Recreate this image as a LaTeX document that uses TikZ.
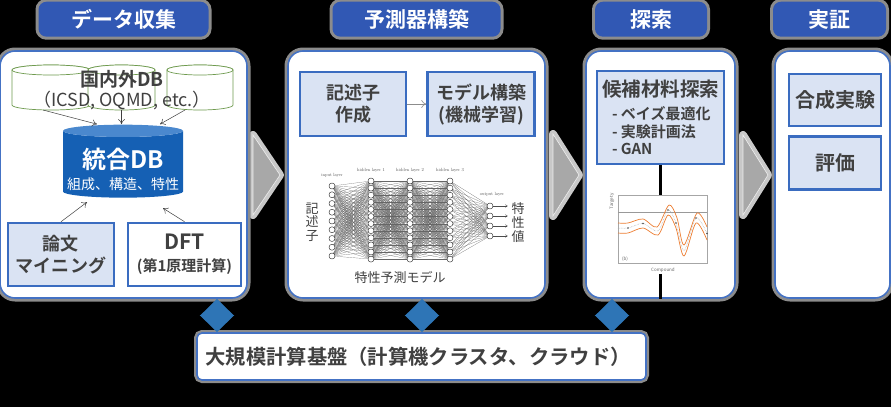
\documentclass[tikz,border=0pt]{standalone}
\usepackage{fontspec}
\setmainfont{Noto Sans CJK JP}[BoldFont={Noto Sans CJK JP Bold}]
\newfontfamily\lmfont{lmroman10-regular.otf}
\usetikzlibrary{arrows.meta, positioning, shapes.geometric, calc}
\definecolor{ctab}{HTML}{3158B4}
\definecolor{cpanel}{HTML}{4472C4}
\definecolor{cbox}{HTML}{3A6CC0}
\definecolor{cfill}{HTML}{DAE3F3}
\definecolor{ctext}{HTML}{404040}
\definecolor{chalo}{HTML}{8C8C8C}
\definecolor{cchev}{HTML}{A8A8A8}
\definecolor{cchevhalo}{HTML}{C8C8C8}
\definecolor{cdia}{HTML}{2E75B6}
\definecolor{cdbline}{HTML}{6E9A4E}
\definecolor{cdbbody}{HTML}{1560B4}
\definecolor{cdbtop}{HTML}{4A88CE}
\definecolor{corange}{HTML}{ED7D31}
\tikzset{
  every picture/.style={x=1pt, y=-1pt, line width=1pt},
  tab/.style={fill=ctab, rounded corners=8pt, text=white, font=\fontsize{21}{24}\selectfont\bfseries, minimum width=#1, minimum height=35pt, inner sep=0pt, preaction={draw=chalo, line width=6pt}},
  panel/.style={draw=cpanel, fill=white, line width=1.6pt, rounded corners=15pt, minimum width=#1, minimum height=247pt, inner sep=0pt, preaction={draw=chalo, line width=7pt}},
  box/.style={draw=cbox, fill=#1, line width=2.6pt, align=center, text=ctext, inner sep=2pt, font=\fontsize{18}{22}\selectfont\bfseries},
  box/.default=cfill,
  dbdrum/.style={draw=cdbline, fill=white, line width=0.7pt},
  thinarrow/.style={-{To[length=5pt,width=7pt]}, draw=ctext, line width=0.5pt},
  garrow/.style={-{To[length=5pt,width=8pt]}, draw=black!45, line width=0.6pt},
  chev/.style={fill=cchev, draw=white!80!cchev, line width=0.6pt, preaction={draw=cchevhalo, line width=8pt, line join=round}},
  bar/.style={draw=cpanel, fill=white, line width=1.6pt, rounded corners=5pt, minimum width=449pt, minimum height=47pt, text width=432pt, align=left, text=ctext, font=\fontsize{20.3}{22}\selectfont\bfseries, preaction={draw=chalo, line width=6pt}},
  link/.style={{Triangle[width=34pt,length=17pt]}-{Triangle[width=34pt,length=17pt]}, draw=cdia, line width=0.8pt},
  neuron/.style={circle, draw=black!80, fill=white, line width=0.45pt, minimum size=6pt, inner sep=0pt},
  nnedge/.style={draw=black!60, line width=0.18pt},
  nnarrow/.style={-{To[length=2.5pt,width=3pt]}, draw=black!70, line width=0.4pt},
  nnlabel/.style={font=\lmfont\fontsize{4.5}{5}\selectfont, text=black!70},
  chartlabel/.style={font=\fontsize{4.5}{5}\selectfont, text=black!60, inner sep=1pt},
}

\begin{document}
\begin{tikzpicture}
  \useasboundingbox (0,0) rectangle (891,407);
  \fill[black] (0,0) rectangle (891,407);
  % arrows between the stages
  \fill[chev] (253,135) -- (280,175) -- (253,215) -- cycle;
  \fill[chev] (553,134) -- (579,175) -- (553,216) -- cycle;
  \fill[chev] (743,135) -- (768,175) -- (743,215) -- cycle;
  % stages
  \node[panel=247] (panelA) at (123.5,174.5) {};
  \node[panel=257] (panelB) at (416.5,174.5) {};
  \node[panel=149] (panelC) at (660.5,174.5) {};
  \node[panel=115] (panelD) at (832.5,174.5) {};
  \node[tab=170, above=13pt of panelA] (tabA) {データ収集};
  \node[tab=168, above=13pt of panelB] (tabB) {予測器構築};
  \node[tab=112, above=13pt of panelC, xshift=-9.5pt] (tabC) {探索};
  \node[tab=113, above=13pt of panelD, xshift=-3pt] (tabD) {実証};

  % data collection
  \foreach \n/\cx/\rx in {dbL/51/39, dbR/200/33, dbM/121.5/33.5} {
    \path[dbdrum] (\cx-\rx,70) -- (\cx-\rx,105)
      arc[start angle=180, end angle=0, x radius=\rx, y radius=5]
      -- (\cx+\rx,70) arc[start angle=0, end angle=-180, x radius=\rx, y radius=5] -- cycle;
    \draw[dbdrum] (\cx,70) ellipse[x radius=\rx, y radius=5];
    \coordinate (\n) at (\cx,110);
  }
  \node[text=ctext, align=center, font=\fontsize{18}{20}\selectfont] (dbText) at (122,90)
    {{\fontsize{19}{20}\selectfont\bfseries 国内外DB}\\（ICSD, OQMD, etc.）};
  \node[cylinder, shape border rotate=90, aspect=0.11, cylinder uses custom fill,
        cylinder body fill=cdbbody, cylinder end fill=cdbtop, minimum width=120pt,
        minimum height=73pt, inner sep=0pt, text=white, align=center,
        font=\fontsize{14}{21}\selectfont] (intDB) at (123,164.5)
    {\rule{0pt}{31pt}{\fontsize{24}{21}\selectfont\bfseries 統合DB}\\組成、構造、特性};
  \node[box, minimum width=106pt, minimum height=63pt] (mining) at (61,254.5) {論文\\マイニング};
  \node[box=white, minimum width=113pt, minimum height=63pt] (dft) at (184.5,254.5)
    {{\fontsize{21}{20}\selectfont DFT}\\{\fontsize{15}{20}\selectfont (第1原理計算)}};
  \draw[thinarrow] ([xshift=-8pt]dbL) -- ([xshift=-26pt]intDB.north);
  \draw[thinarrow] (dbM) -- (dbM |- intDB.north);
  \draw[thinarrow] ([xshift=-15pt]dbR) -- ([xshift=37pt]intDB.north);
  \draw[thinarrow] (mining.north) -- ([xshift=-36pt,yshift=-4pt]intDB.south);
  \draw[thinarrow] (dft.north) -- ([xshift=40pt,yshift=-10pt]intDB.south);

  % predictor
  \node[box, minimum width=106pt, minimum height=64pt] (descr) at (353,104) {記述子\\作成};
  \node[box, minimum width=107pt, minimum height=64pt, right=19pt of descr] (model) {モデル構築\\(機械学習)};
  \draw[garrow] (descr) -- (model);
  \foreach \k in {1,...,9} \coordinate (in\k) at (332,{186+8.75*(\k-1)});
  \foreach \l/\x in {a/371,b/410,c/450}
    \foreach \k in {1,...,12} \coordinate (h\l\k) at (\x,{181+7.1*(\k-1)});
  \foreach \k in {1,...,4} \coordinate (out\k) at (490,{206+10*(\k-1)});
  \begin{scope}[nnedge]
    \foreach \i in {1,...,9} \foreach \j in {1,...,12} \draw (in\i) -- (ha\j);
    \foreach \i in {1,...,12} \foreach \j in {1,...,12} {\draw (ha\i) -- (hb\j); \draw (hb\i) -- (hc\j);}
    \foreach \i in {1,...,12} \foreach \j in {1,...,4} \draw (hc\i) -- (out\j);
  \end{scope}
  \node[text=ctext, align=center, font=\fontsize{13}{13.5}\selectfont] (descrLab) at (312,222) {記\\述\\子};
  \node[text=ctext, align=center, font=\fontsize{13}{14}\selectfont] (prop) at (518,223) {特\\性\\値};
  \foreach \k in {1,...,4} \draw[nnarrow] (out\k) -- (out\k -| prop.west);
  \foreach \k in {1,...,9} \node[neuron] at (in\k) {};
  \foreach \l in {a,b,c} \foreach \k in {1,...,12} \node[neuron] at (h\l\k) {};
  \foreach \k in {1,...,4} \node[neuron] at (out\k) {};
  \node[nnlabel] at (332,175) {input layer};
  \node[nnlabel] at (371,170) {hidden layer 1};
  \node[nnlabel] at (410,170) {hidden layer 2};
  \node[nnlabel] at (450,170) {hidden layer 3};
  \node[nnlabel] at (492,194) {output layer};
  \node[text=ctext, font=\fontsize{13}{15}\selectfont] (nnName) at (400,277) {特性予測モデル};

  % search
  \node[box, align=left, minimum width=127pt, minimum height=93pt, font=\fontsize{15}{17.5}\selectfont\bfseries] (cand) at (660.5,117.5)
    {{\fontsize{19.5}{20}\selectfont 候補材料探索}\\[6pt]
     \hspace*{10pt}- ベイズ最適化\\
     \hspace*{10pt}- 実験計画法\\
     \hspace*{10pt}- GAN};
  \node[draw=black!35, line width=0.4pt, minimum width=89pt, minimum height=68pt, inner sep=0pt] (chart) at (662.5,229) {};
  \draw[black!40, line width=0.4pt] (chart.west |- 0,212) -- (chart.east |- 0,212);
  \draw[corange, line width=0.7pt] plot[smooth] coordinates {(618,223) (628,223) (643,219) (657,227) (669,205) (677,218) (684,245) (697,213) (707,227)};
  \draw[corange, line width=0.7pt] plot[smooth] coordinates {(618,233) (628,233) (643,228) (658,235) (668,215) (676,228) (684,256) (696,223) (707,240)};
  \draw[black!35, line width=0.5pt, densely dotted] plot[smooth] coordinates {(618,228) (628,228) (643,223.5) (658,231) (668,210) (676,223) (684,250.5) (696,218) (707,233.5)};
  \foreach \p in {(628,228),(643,223.5),(668,210),(676,223),(696,218),(707,233.5)}
    \fill[black!70] \p circle (0.9);
  \node[chartlabel, rotate=90] at (612,201) {Target y};
  \node[chartlabel] at (625,259) {(b)};
  \node[chartlabel] (xlab) at (663,270) {Compound};
  \draw[black, line width=3pt] (cand.south) -- (cand.south |- chart.north);
  \draw[black, line width=3pt] (xlab.south -| cand.south) -- (panelC.south -| cand.south);

  % verification
  \node[box, minimum width=92pt, minimum height=52pt, font=\fontsize{20}{22}\selectfont\bfseries] (synth) at (835,100) {合成実験};
  \node[box, minimum width=92pt, minimum height=53pt, font=\fontsize{20}{22}\selectfont\bfseries, below=8pt of synth] (eval) {評価};

  % computing platform
  \node[bar] (bar) at (421.5,356.5) {大規模計算基盤（計算機クラスタ、クラウド）};
  \coordinate (dA) at (217,317);
  \coordinate (dB) at (422,317);
  \coordinate (dC) at (612,317);
  \foreach \d/\p in {dA/panelA, dB/panelB, dC/panelC}
    \draw[link] (bar.north -| \d) -- (\p.south -| \d);
\end{tikzpicture}
\end{document}
